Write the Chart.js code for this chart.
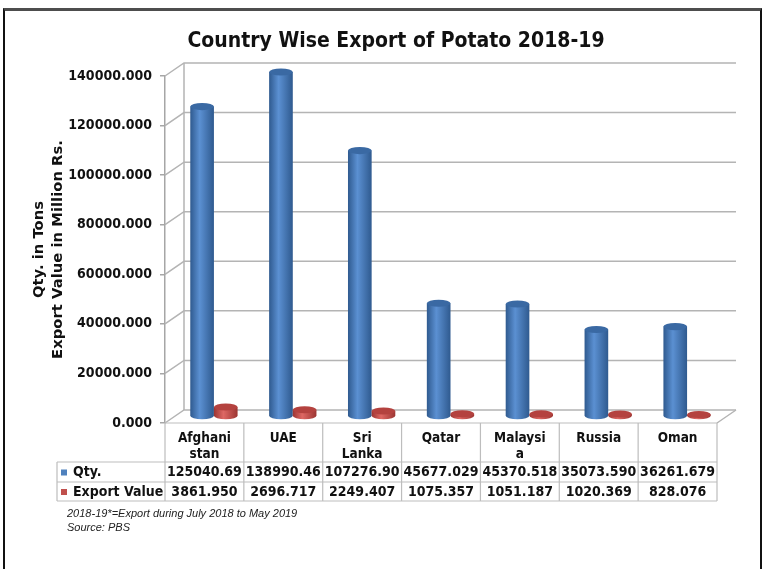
<!DOCTYPE html>
<html>
<head>
<meta charset="utf-8">
<title>Country Wise Export of Potato 2018-19</title>
<script src="https://cdn.jsdelivr.net/npm/chart.js@4.4.1/dist/chart.umd.min.js"></script>
<style>
    html, body { margin: 0; padding: 0; background: #fff; }
    #wrap { position: relative; width: 765px; height: 569px; overflow: hidden; }
    #frame {
        position: absolute; left: 3px; top: 8px; width: 755px; height: 600px;
        border-top: 3px solid #4d4d4d; border-left: 2px solid #111; border-right: 2px solid #111;
        pointer-events: none;
    }
    #chartTitle {
        position: absolute; left: 396px; top: 28px; transform: translateX(-50%);
        font: bold 21px 'DejaVu Sans Condensed', 'DejaVu Sans'; font-stretch: condensed;
        line-height: 24px; white-space: nowrap; color: #111;
    }
    .note {
        position: absolute; left: 67px; font: italic 11px 'Liberation Sans', sans-serif;
        line-height: 13px; color: #222; white-space: nowrap;
    }
</style>
</head>
<body>
<div id="wrap">
    <canvas id="potatoChart" width="765" height="569"></canvas>
    <div id="chartTitle">Country Wise Export of Potato 2018-19</div>
    <div class="note" style="top: 507px;">2018-19*=Export during July 2018 to May 2019</div>
    <div class="note" style="top: 521px;">Source: PBS</div>
    <div id="frame"></div>
</div>

<script>
// Chart data
const categories = [['Afghani', 'stan'], 'UAE', ['Sri', 'Lanka'], 'Qatar', ['Malaysi', 'a'], 'Russia', 'Oman'];
const qtyTons = [125040.69, 138990.46, 107276.90, 45677.029, 45370.518, 35073.590, 36261.679];
const exportValue = [3861.950, 2696.717, 2249.407, 1075.357, 1051.187, 1020.369, 828.076];
const seriesNames = ['Qty.', 'Export Value'];
const yTicks = [0, 20000, 40000, 60000, 80000, 100000, 120000, 140000];

const condensedBold = '"DejaVu Sans Condensed", "DejaVu Sans"';

// cylinder colours (dark edge, light centre, top cap)
const cylColors = [
    { dark: '#2f5a8f', light: '#5b90d2', top: '#3a69a3', key: '#4f81bd' },
    { dark: '#9c3532', light: '#de6864', top: '#b4423f', key: '#c0504d' }
];

// 3D depth of the plot box
const DEPTH_X = 19;
const DEPTH_Y = 13;

function drawCylinder(ctx, cx, top, bottom, w, c) {
    const rx = w / 2;
    const ry = Math.max(2.5, w * 0.15);
    const left = cx - rx;
    const grad = ctx.createLinearGradient(left, 0, left + w, 0);
    grad.addColorStop(0, c.dark);
    grad.addColorStop(0.4, c.light);
    grad.addColorStop(1, c.dark);

    ctx.fillStyle = grad;
    ctx.beginPath();
    ctx.moveTo(left, top);
    ctx.lineTo(left, bottom);
    ctx.ellipse(cx, bottom, rx, ry, 0, Math.PI, 0, true);
    ctx.lineTo(left + w, top);
    ctx.closePath();
    ctx.fill();

    ctx.fillStyle = c.top;
    ctx.beginPath();
    ctx.ellipse(cx, top, rx, ry, 0, 0, Math.PI * 2);
    ctx.fill();
}

const boxPlugin = {
    id: 'box3d',
    beforeDatasetsDraw(chart) {
        const { ctx, chartArea: a, scales: { y } } = chart;
        ctx.save();
        ctx.strokeStyle = '#b4b4b4';
        ctx.lineWidth = 1.5;
        y.ticks.forEach(t => {
            const py = y.getPixelForValue(t.value);
            ctx.beginPath();
            ctx.moveTo(a.left, py);
            ctx.lineTo(a.left + DEPTH_X, py - DEPTH_Y);
            ctx.lineTo(a.right + DEPTH_X, py - DEPTH_Y);
            ctx.stroke();
        });
        ctx.beginPath();
        ctx.moveTo(a.left + DEPTH_X, a.top - DEPTH_Y);
        ctx.lineTo(a.left + DEPTH_X, a.bottom - DEPTH_Y);
        ctx.moveTo(a.right, a.bottom);
        ctx.lineTo(a.right + DEPTH_X, a.bottom - DEPTH_Y);
        ctx.stroke();
        ctx.restore();
    },
    afterDatasetsDraw(chart) {
        const ctx = chart.ctx;
        ctx.save();
        const n = categories.length;
        for (let i = 0; i < n; i++) {
            chart.data.datasets.forEach((ds, d) => {
                const el = chart.getDatasetMeta(d).data[i];
                drawCylinder(ctx, el.x + DEPTH_X / 2, el.y - DEPTH_Y / 2, el.base - DEPTH_Y / 2, el.width, cylColors[d]);
            });
        }
        ctx.restore();
    }
};

const tablePlugin = {
    id: 'dataTable',
    afterDraw(chart) {
        const { ctx, chartArea: a, scales: { x } } = chart;
        const n = categories.length;
        const colW = (x.right - x.left) / n;
        const rows = [a.bottom, a.bottom + 39, a.bottom + 59, a.bottom + 78];
        const labelLeft = 57;

        ctx.save();
        ctx.strokeStyle = '#bdbdbd';
        ctx.lineWidth = 1.2;
        ctx.beginPath();
        ctx.moveTo(a.left, rows[0]);
        ctx.lineTo(a.right, rows[0]);
        for (let r = 1; r < rows.length; r++) {
            ctx.moveTo(labelLeft, rows[r]);
            ctx.lineTo(a.right, rows[r]);
        }
        for (let i = 0; i <= n; i++) {
            const px = x.left + i * colW;
            ctx.moveTo(px, rows[0]);
            ctx.lineTo(px, rows[3]);
        }
        ctx.moveTo(labelLeft, rows[1]);
        ctx.lineTo(labelLeft, rows[3]);
        ctx.stroke();

        ctx.fillStyle = '#111';
        ctx.font = 'bold 13.5px ' + condensedBold;
        ctx.textAlign = 'center';
        ctx.textBaseline = 'middle';
        categories.forEach((label, i) => {
            const cx = x.getPixelForValue(i);
            const lines = Array.isArray(label) ? label : [label];
            lines.forEach((line, k) => ctx.fillText(line, cx, rows[0] + 15 + k * 16));
        });

        ctx.font = 'bold 14px ' + condensedBold;
        [qtyTons, exportValue].forEach((values, d) => {
            const cy = (rows[d + 1] + rows[d + 2]) / 2 + 0.5;
            values.forEach((v, i) => {
                ctx.fillText(v.toFixed(3).slice(0, 9), x.getPixelForValue(i), cy);
            });
            ctx.fillStyle = cylColors[d].key;
            ctx.fillRect(61, cy - 3, 6, 6);
            ctx.fillStyle = '#111';
            ctx.textAlign = 'left';
            ctx.fillText(seriesNames[d], 73, cy);
            ctx.textAlign = 'center';
        });
        ctx.restore();
    }
};

const ctx = document.getElementById('potatoChart').getContext('2d');
const potatoChart = new Chart(ctx, {
    type: 'bar',
    data: {
        labels: categories,
        datasets: [
            { label: seriesNames[0], data: qtyTons, backgroundColor: 'transparent', borderWidth: 0 },
            { label: seriesNames[1], data: exportValue, backgroundColor: 'transparent', borderWidth: 0 }
        ]
    },
    options: {
        responsive: false,
        animation: false,
        layout: { padding: { left: 25, top: 76, right: 48, bottom: 146 } },
        datasets: { bar: { categoryPercentage: 0.6, barPercentage: 1.0 } },
        scales: {
            x: { display: false },
            y: {
                min: 0,
                max: 140000,
                afterBuildTicks: (scale) => { scale.ticks = yTicks.map(v => ({ value: v })); },
                afterFit: (scale) => { scale.width = 140; },
                border: { display: true, color: '#a6a6a6', width: 1.5 },
                grid: { drawOnChartArea: false, drawTicks: true, tickLength: 5, color: '#a6a6a6', lineWidth: 1.5 },
                ticks: {
                    padding: 8,
                    color: '#111',
                    font: { family: condensedBold, weight: 'bold', size: 14 },
                    callback: (value) => Number(value).toFixed(3)
                },
                title: {
                    display: true,
                    text: ['Qty. in Tons', 'Export Value in Million Rs.'],
                    color: '#111',
                    padding: { top: 4, bottom: 0 },
                    font: { family: '"DejaVu Sans"', weight: 'bold', size: 14.8, lineHeight: 1.32 }
                }
            }
        },
        plugins: {
            legend: { display: false },
            tooltip: { enabled: false }
        }
    },
    plugins: [boxPlugin, tablePlugin]
});
</script>
</body>
</html>
